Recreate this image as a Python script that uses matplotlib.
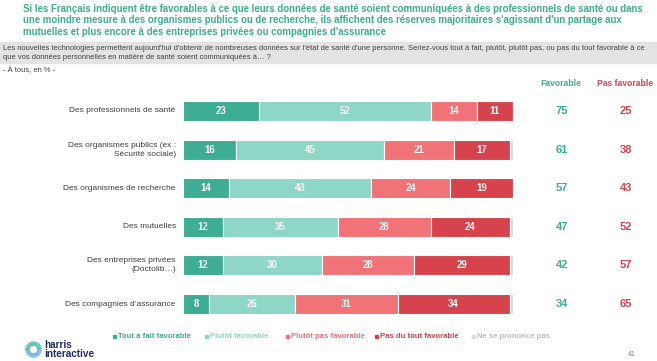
import numpy as np
import matplotlib
matplotlib.use("Agg")
import matplotlib.pyplot as plt
from matplotlib.patches import Rectangle

plt.rcParams['font.family'] = ['Liberation Sans', 'DejaVu Sans']

# données
categories = ["Des professionnels de santé",
              "Des organismes publics (ex :\nSécurité sociale)",
              "Des organismes de recherche",
              "Des mutuelles",
              "Des entreprises privées\n(Doctolib…)",
              "Des compagnies d’assurance"]
tout_a_fait = [23, 16, 14, 12, 12, 8]
plutot = [52, 45, 43, 35, 30, 26]
plutot_pas = [14, 21, 24, 28, 28, 31]
pas_du_tout = [11, 17, 19, 24, 29, 34]
nsp = [0, 1, 0, 1, 1, 1]
favorable = [75, 61, 57, 47, 42, 34]
pas_favorable = [25, 38, 43, 52, 57, 65]

series_names = ["Tout à fait favorable", "Plutôt favorable", "Plutôt pas favorable",
                "Pas du tout favorable", "Ne se prononce pas"]
colors = ["#3DAD93", "#8ED6C6", "#F17378", "#D6434D", "#D9D9D9"]
green_txt = "#3DAD93"
red_txt = "#D6434D"

W, H = 657, 361
fig = plt.figure(figsize=(W / 100, H / 100), dpi=100)

def fx(px):
    return px / W

def fy(py):
    return 1 - py / H

# titre
title = ["Si les Français indiquent être favorables à ce que leurs données de santé soient communiquées à des professionnels de santé ou dans",
         "une moindre mesure à des organismes publics ou de recherche, ils affichent des réserves majoritaires s'agissant d'un partage aux",
         "mutuelles et plus encore à des entreprises privées ou compagnies d'assurance"]
for i, line in enumerate(title):
    fig.text(fx(23), fy(8.5 + 11.7 * i), line, color=green_txt, fontsize=6.9,
             fontweight='bold', va='center', ha='left')

# bandeau question
fig.patches.append(Rectangle((0, fy(62.7)), 1, (62.7 - 41.7) / H, transform=fig.transFigure,
                             color="#E3E3E3", zorder=0))
question = ["Les nouvelles technologies permettent aujourd'hui d'obtenir de nombreuses données sur l'état de santé d'une personne. "
            "Seriez-vous tout à fait, plutôt, plutôt pas, ou pas du tout favorable à ce",
            "que vos données personnelles en matière de santé soient communiquées à… ?"]
for i, line in enumerate(question):
    fig.text(fx(3), fy(48.3 + 9 * i), line, fontsize=5.45, color="#404040", va='center', ha='left')
fig.text(fx(3), fy(70.7), "- À tous, en % -", fontsize=5.45, color="#404040", va='center')

# barres
ax = fig.add_axes([fx(183), fy(323.3), fx(513) - fx(183), (323.3 - 91.7) / H])
y = np.arange(len(categories))
left = np.zeros(len(categories))
all_series = [tout_a_fait, plutot, plutot_pas, pas_du_tout, nsp]
for vals, c in zip(all_series, colors):
    vals = np.array(vals, dtype=float)
    ax.barh(y, vals, left=left, height=0.52, color=c, edgecolor='white', linewidth=0.8)
    for yi, (l, v) in enumerate(zip(left, vals)):
        if v >= 5:
            ax.text(l + v / 2, yi, f"{int(v)}", color='white', fontsize=6.9,
                    fontweight='bold', ha='center', va='center')
    left += vals
ax.set_xlim(0, 100)
ax.set_ylim(len(categories) - 0.5, -0.5)
ax.axis('off')

for yi, cat in enumerate(categories):
    ax.text(-2.2, yi, cat, ha='right', va='center', fontsize=6.0, color="#404040",
            linespacing=1.4)

# totaux
fig.text(fx(561), fy(83), "Favorable", color=green_txt, fontsize=6.2, fontweight='bold', ha='center', va='center')
fig.text(fx(625), fy(83), "Pas favorable", color=red_txt, fontsize=6.2, fontweight='bold', ha='center', va='center')
for yi in range(len(categories)):
    yy = ax.transData.transform((0, yi))
    yf = fig.transFigure.inverted().transform(yy)[1]
    fig.text(fx(562), yf, str(favorable[yi]), color=green_txt, fontsize=8,
             fontweight='bold', ha='center', va='center')
    fig.text(fx(626), yf, str(pas_favorable[yi]), color=red_txt, fontsize=8,
             fontweight='bold', ha='center', va='center')

# légende
leg_x = [113, 205, 286, 375, 472]
txt_colors = [green_txt, "#8ED6C6", "#F17378", red_txt, "#BFBFBF"]
for x0, name, c, tc in zip(leg_x, series_names, colors, txt_colors):
    fig.patches.append(Rectangle((fx(x0), fy(338)), 3 / W, 3 / H, transform=fig.transFigure,
                                 color=c))
    fig.text(fx(x0 + 5), fy(336.5), name, color=tc, fontsize=5.6, fontweight='bold',
             ha='left', va='center')

# logo
ax_logo = fig.add_axes([fx(25), fy(358), 17 / W, 17 / H])
theta = np.linspace(0, 2 * np.pi, 60)
for i in range(len(theta) - 1):
    t = i / (len(theta) - 1)
    col = (0.2 + 0.2 * t, 0.75 - 0.1 * t, 0.55 + 0.4 * t)
    ax_logo.plot(np.cos(theta[i:i + 2]), np.sin(theta[i:i + 2]), color=col, lw=3.2,
                 solid_capstyle='butt')
ax_logo.set_xlim(-1.4, 1.4)
ax_logo.set_ylim(-1.4, 1.4)
ax_logo.set_aspect('equal')
ax_logo.axis('off')
fig.text(fx(44), fy(349.5), "harris\ninteractive", color="#1F2A6B", fontsize=7.2,
         fontweight='bold', ha='left', va='center', linespacing=0.95)

fig.text(fx(632), fy(354), "41", color="#808080", fontsize=5, ha='center', va='center')

fig.savefig("out.png", dpi=100)
